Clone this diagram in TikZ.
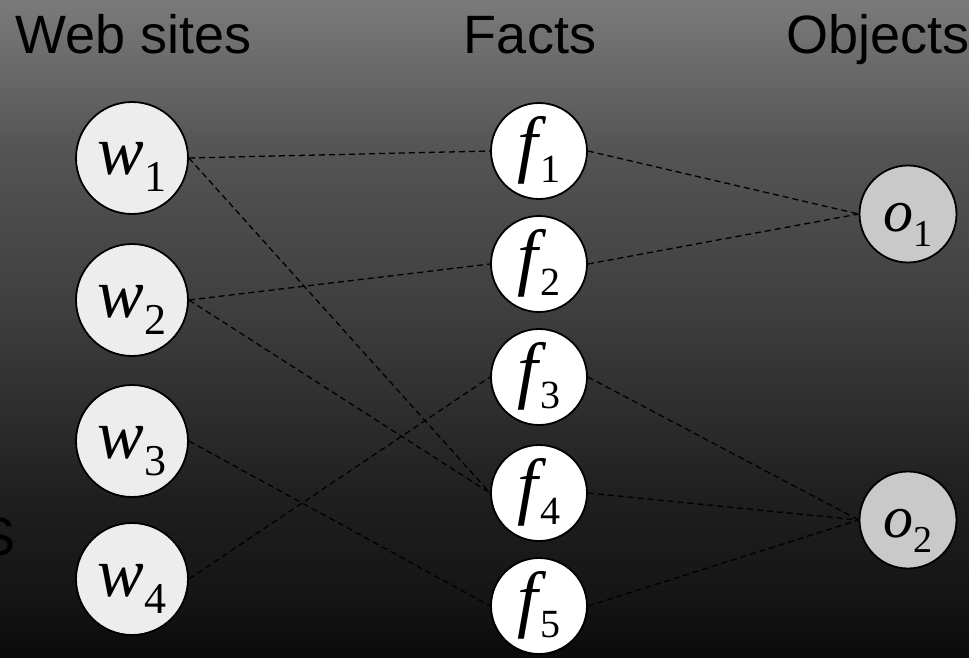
\documentclass[tikz,border=0pt]{standalone}
\usepackage{fontspec}
\setmainfont{Liberation Serif}
\newfontfamily\headfont{Liberation Sans}

% slide background: grey at the top fading to near black at the bottom
\definecolor{bgTop}{gray}{0.48}
\definecolor{bgB}{gray}{0.33}
\definecolor{bgC}{gray}{0.25}
\definecolor{bgD}{gray}{0.12}
\definecolor{bgE}{gray}{0.08}
\definecolor{bgBot}{gray}{0.04}
\pgfdeclareverticalshading{slidebg}{100bp}{%
  color(0bp)=(bgBot); color(25bp)=(bgBot); color(29.4bp)=(bgE);
  color(37bp)=(bgD); color(52.2bp)=(bgC); color(63.6bp)=(bgB);
  color(75bp)=(bgTop); color(100bp)=(bgTop)}

\definecolor{siteFill}{gray}{0.93}
\definecolor{objFill}{gray}{0.79}

% italic letter with a lowered numeric subscript (size, letter, sub size, drop, kern, digit)
\newcommand\symlab[6]{{\fontsize{#1}{#1}\selectfont\itshape #2}\kern#5%
  \raisebox{-#4}{\fontsize{#3}{#3}\selectfont #6}}

\begin{document}
\begin{tikzpicture}[x=1pt,y=-1pt,
  vertex/.style={circle, draw=black, line width=1.8pt, inner sep=0pt,
    text height=34pt, text depth=0pt, align=center},
  site/.style={vertex, fill=siteFill, minimum size=112pt},
  fact/.style={vertex, fill=white, minimum size=96pt},
  obj/.style={vertex, fill=objFill, minimum size=97pt},
  head/.style={font=\headfont\fontsize{54}{54}\selectfont, text=black, inner sep=0pt},
  link/.style={draw=black, line width=1.3pt, dash pattern=on 6pt off 4pt}]

\useasboundingbox (0,0) rectangle (969,658);
\clip (0,0) rectangle (969,658);
\shade[shading=slidebg] (0,0) rectangle (969,658);

% column headings
\node[head, anchor=base] (hsites) at (134,54) {Web sites};
\node[head, anchor=base] (hfacts) at (530,54) {Facts};
\node[head, anchor=base] (hobjs) at (878,54) {Objects};
\node[head, anchor=base east] (cut) at (16,555) {S};

% web sites
\node[site] (w1) at (132,158) {\symlab{70}{w}{44}{17pt}{0pt}{1}};
\node[site] (w2) at (132,300) {\symlab{70}{w}{44}{17pt}{0pt}{2}};
\node[site] (w3) at (132,441) {\symlab{70}{w}{44}{17pt}{0pt}{3}};
\node[site] (w4) at (132,579) {\symlab{70}{w}{44}{17pt}{0pt}{4}};

% facts
\node[fact] (f1) at (539,151) {\symlab{74}{f}{40}{14pt}{2pt}{1}};
\node[fact] (f2) at (539,264) {\symlab{74}{f}{40}{14pt}{2pt}{2}};
\node[fact] (f3) at (539,377) {\symlab{74}{f}{40}{14pt}{2pt}{3}};
\node[fact] (f4) at (539,493) {\symlab{74}{f}{40}{14pt}{2pt}{4}};
\node[fact] (f5) at (539,606) {\symlab{74}{f}{40}{14pt}{2pt}{5}};

% objects
\node[obj] (o1) at (908,214) {\symlab{60}{o}{38}{15pt}{0pt}{1}};
\node[obj] (o2) at (908,520) {\symlab{60}{o}{38}{15pt}{0pt}{2}};

% web site -> fact links
\draw[link] (w1.east) -- (f1.west);
\draw[link] (w1.east) -- (f4.west);
\draw[link] (w2.east) -- (f2.west);
\draw[link] (w2.east) -- (f4.west);
\draw[link] (w3.east) -- (f5.west);
\draw[link] (w4.east) -- (f3.west);

% fact -> object links
\draw[link] (f1.east) -- (o1.west);
\draw[link] (f2.east) -- (o1.west);
\draw[link] (f3.east) -- (o2.west);
\draw[link] (f4.east) -- (o2.west);
\draw[link] (f5.east) -- (o2.west);
\end{tikzpicture}
\end{document}
